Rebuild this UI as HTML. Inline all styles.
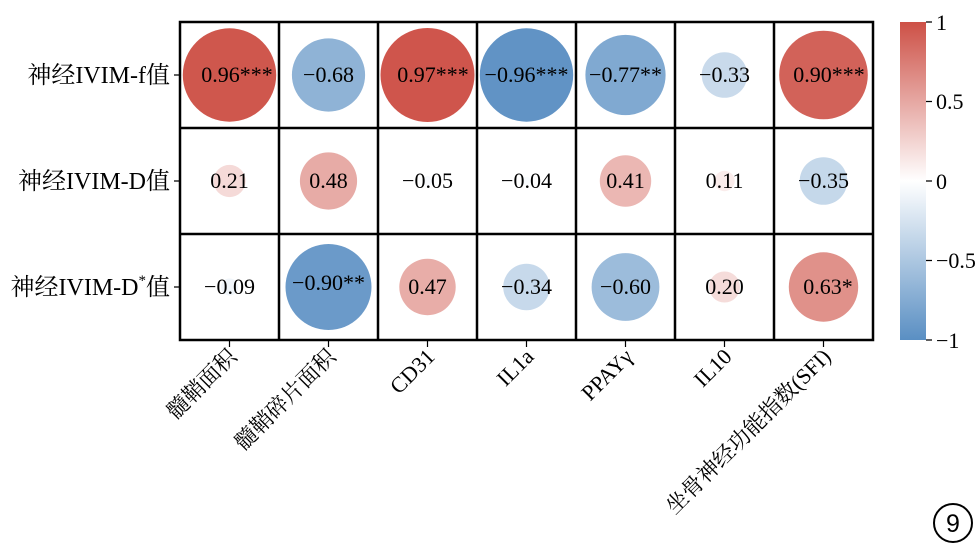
<!DOCTYPE html>
<html><head><meta charset="utf-8"><style>body{margin:0;background:#fff}svg{display:block}</style></head><body>
<svg width="980" height="553" viewBox="0 0 980 553" xmlns="http://www.w3.org/2000/svg" font-family="'Liberation Serif','Noto Serif CJK SC',serif">
<defs><linearGradient id="cb" x1="0" y1="0" x2="0" y2="1">
<stop offset="0" stop-color="rgb(205,80,70)"/><stop offset="0.5" stop-color="#fff"/><stop offset="1" stop-color="rgb(90,143,195)"/></linearGradient></defs>
<g>
<circle cx="229.5" cy="75" r="46.7" fill="rgb(207,87,77)"/>
<circle cx="328.5" cy="75" r="36.6" fill="rgb(143,179,214)"/>
<circle cx="427.5" cy="75" r="47" fill="rgb(207,85,76)"/>
<circle cx="526.5" cy="75" r="46.7" fill="rgb(97,147,197)"/>
<circle cx="625.5" cy="75" r="40.1" fill="rgb(128,169,209)"/>
<circle cx="724.5" cy="75" r="22.8" fill="rgb(201,218,235)"/>
<circle cx="823.5" cy="75" r="44.3" fill="rgb(210,98,89)"/>
<circle cx="229.5" cy="181" r="16.1" fill="rgb(245,218,216)"/>
<circle cx="328.5" cy="181" r="28.6" fill="rgb(231,171,166)"/>
<circle cx="427.5" cy="181" r="5" fill="rgb(247,249,252)"/>
<circle cx="526.5" cy="181" r="4.2" fill="rgb(248,251,253)"/>
<circle cx="625.5" cy="181" r="25.7" fill="rgb(235,183,179)"/>
<circle cx="724.5" cy="181" r="10.2" fill="rgb(250,236,235)"/>
<circle cx="823.5" cy="181" r="23.8" fill="rgb(197,216,234)"/>
<circle cx="229.5" cy="287" r="8.5" fill="rgb(240,245,250)"/>
<circle cx="328.5" cy="287" r="43" fill="rgb(107,154,201)"/>
<circle cx="427.5" cy="287" r="28.2" fill="rgb(232,173,168)"/>
<circle cx="526.5" cy="287" r="23.3" fill="rgb(199,217,235)"/>
<circle cx="625.5" cy="287" r="33.9" fill="rgb(156,188,219)"/>
<circle cx="724.5" cy="287" r="15.5" fill="rgb(245,220,218)"/>
<circle cx="823.5" cy="287" r="34.7" fill="rgb(224,145,138)"/>
</g>
<g font-size="22" text-anchor="middle" fill="#000">
<text x="237" y="82">0.96***</text><text x="328.5" y="82">−0.68</text><text x="433" y="82">0.97***</text><text x="526.5" y="82">−0.96***</text><text x="625.5" y="82">−0.77**</text><text x="724.5" y="82">−0.33</text><text x="829" y="82">0.90***</text>
<text x="229.5" y="188">0.21</text><text x="328.5" y="188">0.48</text><text x="427.5" y="188">−0.05</text><text x="526.5" y="188">−0.04</text><text x="625.5" y="188">0.41</text><text x="724.5" y="188">0.11</text><text x="823.5" y="188">−0.35</text>
<text x="229.5" y="294">−0.09</text><text x="328.5" y="290">−0.90**</text><text x="427.5" y="294">0.47</text><text x="526.5" y="294">−0.34</text><text x="625.5" y="294">−0.60</text><text x="724.5" y="294">0.20</text><text x="828" y="294">0.63*</text>
</g>
<g stroke="#000" stroke-width="2.5" fill="none">
<rect x="180" y="22" width="693" height="318"/>
<path d="M279 22V340M378 22V340M477 22V340M576 22V340M675 22V340M774 22V340M180 128H873M180 234H873"/>
</g>
<g stroke="#000" stroke-width="1.2">
<path d="M174 75H180M174 181H180M174 287H180"/>
<path d="M229.5 340V347M328.5 340V347M427.5 340V347M526.5 340V347M625.5 340V347M724.5 340V347M823.5 340V347"/>
<path d="M926 22H932M926 101.5H932M926 181H932M926 260.5H932M926 340H932"/>
</g>
<g font-size="24" text-anchor="end">
<text x="170" y="83">神经IVIM-f值</text>
<text x="170" y="189">神经IVIM-D值</text>
<text x="170" y="295">神经IVIM-D<tspan font-size="15" dy="-10">*</tspan><tspan dy="10">值</tspan></text>
</g>
<g font-size="22" text-anchor="end">
<text transform="translate(238,358) rotate(-45)">髓鞘面积</text>
<text transform="translate(337,358) rotate(-45)">髓鞘碎片面积</text>
<text transform="translate(436,358) rotate(-45)">CD31</text>
<text transform="translate(535,358) rotate(-45)">IL1a</text>
<text transform="translate(634,358) rotate(-45)">PPAYγ</text>
<text transform="translate(733,358) rotate(-45)">IL10</text>
<text transform="translate(832,358) rotate(-45)">坐骨神经功能指数(SFI)</text>
</g>
<rect x="900" y="22" width="26" height="318" fill="url(#cb)"/>
<g font-size="22">
<text x="936" y="30">1</text><text x="936" y="109">0.5</text><text x="936" y="189">0</text><text x="936" y="268">−0.5</text><text x="936" y="348">−1</text>
</g>
<circle cx="953" cy="523" r="19" fill="none" stroke="#000" stroke-width="2"/>
<text x="953" y="532" font-size="25" text-anchor="middle" font-family="'Liberation Sans',sans-serif">9</text>
</svg>
</body></html>
